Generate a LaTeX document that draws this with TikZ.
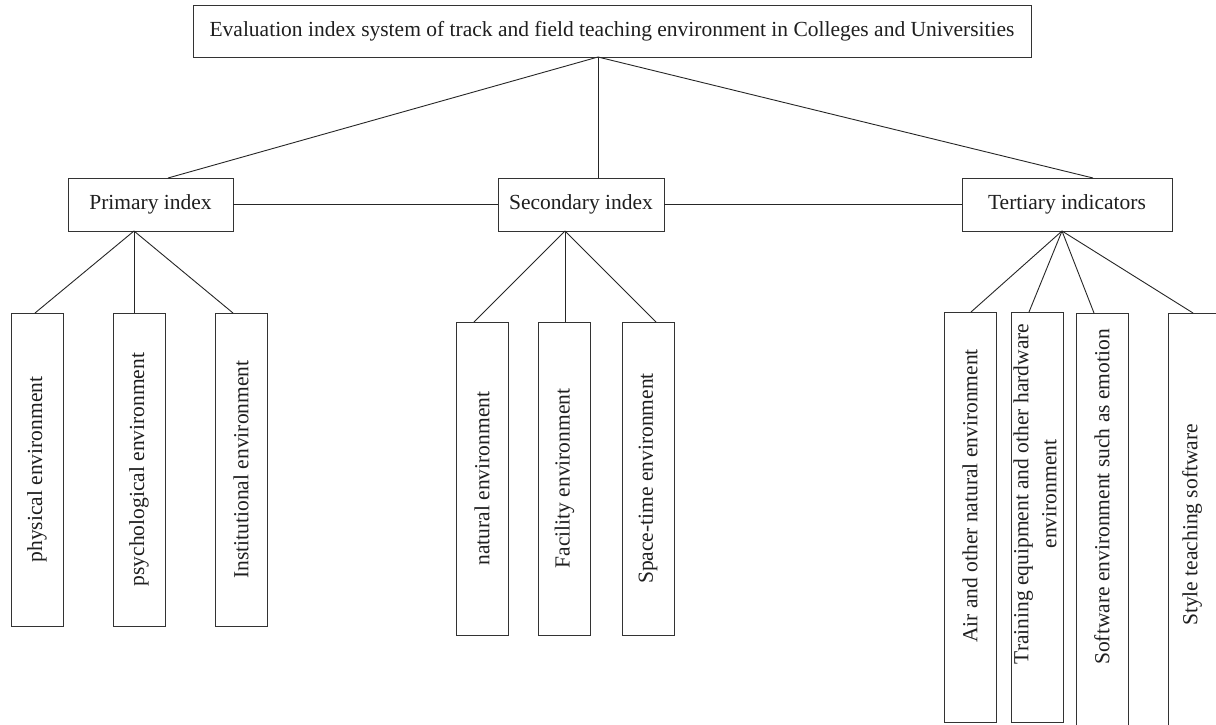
\documentclass[tikz,border=0pt]{standalone}
\usepackage{fontspec}
\setmainfont{Liberation Serif}
\begin{document}
\begin{tikzpicture}[x=1pt,y=-1pt,
  box/.style={draw=black!80, line width=0.9pt, inner sep=0pt, fill=white},
  txt/.style={font=\fontsize{21.5}{28}\selectfont, text=black!88},
  vbox/.style={box, txt, rotate=90, minimum height=52pt},
  link/.style={draw=black!85, line width=0.9pt}]
\useasboundingbox[fill=white] (0,0) rectangle (1216,724);

% top
\node[box, txt, minimum width=838pt, minimum height=52pt] (T) at (612,31) {Evaluation index system of track and field teaching environment in Colleges and Universities};
\coordinate (apex) at (598,57);

% level 1
\node[box, txt, minimum width=165pt, minimum height=53pt] (P) at (150.5,204.5) {Primary index};
\node[box, txt, minimum width=166pt, minimum height=53pt] (S) at (581,204.5) {Secondary index};
\node[box, txt, minimum width=210pt, minimum height=53pt] (R) at (1067,204.5) {Tertiary indicators};

\coordinate (Ptop) at (168,178);
\coordinate (Stop) at (598,178);
\coordinate (Rtop) at (1093,178);
\coordinate (pj) at (134,231);
\coordinate (sj) at (565,231);
\coordinate (rj) at (1062,231);

% primary children
\node[vbox, minimum width=313pt] (p1) at (37,469.5) {physical environment};
\node[vbox, minimum width=313pt] (p2) at (139,469.5) {psychological environment};
\node[vbox, minimum width=313pt] (p3) at (241,469.5) {Institutional environment};
\coordinate (p1t) at (35,313);
\coordinate (p2t) at (134,313);
\coordinate (p3t) at (233,313);

% secondary children
\node[vbox, minimum width=313pt] (s1) at (482,478.5) {natural environment};
\node[vbox, minimum width=313pt] (s2) at (564.5,478.5) {Facility environment};
\node[vbox, minimum width=313pt] (s3) at (648,478.5) {Space-time environment};
\coordinate (s1t) at (474,322);
\coordinate (s2t) at (565,322);
\coordinate (s3t) at (656,322);

% tertiary children (boxes)
\node[box, minimum width=52pt, minimum height=410pt] (r1) at (970,517) {};
\node[box, minimum width=52pt, minimum height=410pt] (r2) at (1037,517) {};
\node[box, minimum width=52pt, minimum height=417pt] (r3) at (1102,521.5) {};
\node[box, minimum width=56pt, minimum height=417pt] (r4) at (1196,521.5) {};
\node[txt, rotate=90] (r1t) at (970,496) {Air and other natural environment};
\node[txt, rotate=90, align=center] (r2t) at (1035,494) {Training equipment and other hardware\\environment};
\node[txt, rotate=90] (r3t) at (1102,497) {Software environment such as emotion};
\node[txt, rotate=90] (r4t) at (1192,525) {Style teaching software};
\coordinate (r1a) at (971,312);
\coordinate (r2a) at (1029,312);
\coordinate (r3a) at (1094,313);
\coordinate (r4a) at (1193,313);

% connectors
\draw[link] (apex) -- (Ptop);
\draw[link] (apex) -- (Stop);
\draw[link] (apex) -- (Rtop);
\draw[link] (P.east) -- (S.west);
\draw[link] (S.east) -- (R.west);
\draw[link] (pj) -- (p1t);
\draw[link] (pj) -- (p2t);
\draw[link] (pj) -- (p3t);
\draw[link] (sj) -- (s1t);
\draw[link] (sj) -- (s2t);
\draw[link] (sj) -- (s3t);
\draw[link] (rj) -- (r1a);
\draw[link] (rj) -- (r2a);
\draw[link] (rj) -- (r3a);
\draw[link] (rj) -- (r4a);
\end{tikzpicture}
\end{document}
